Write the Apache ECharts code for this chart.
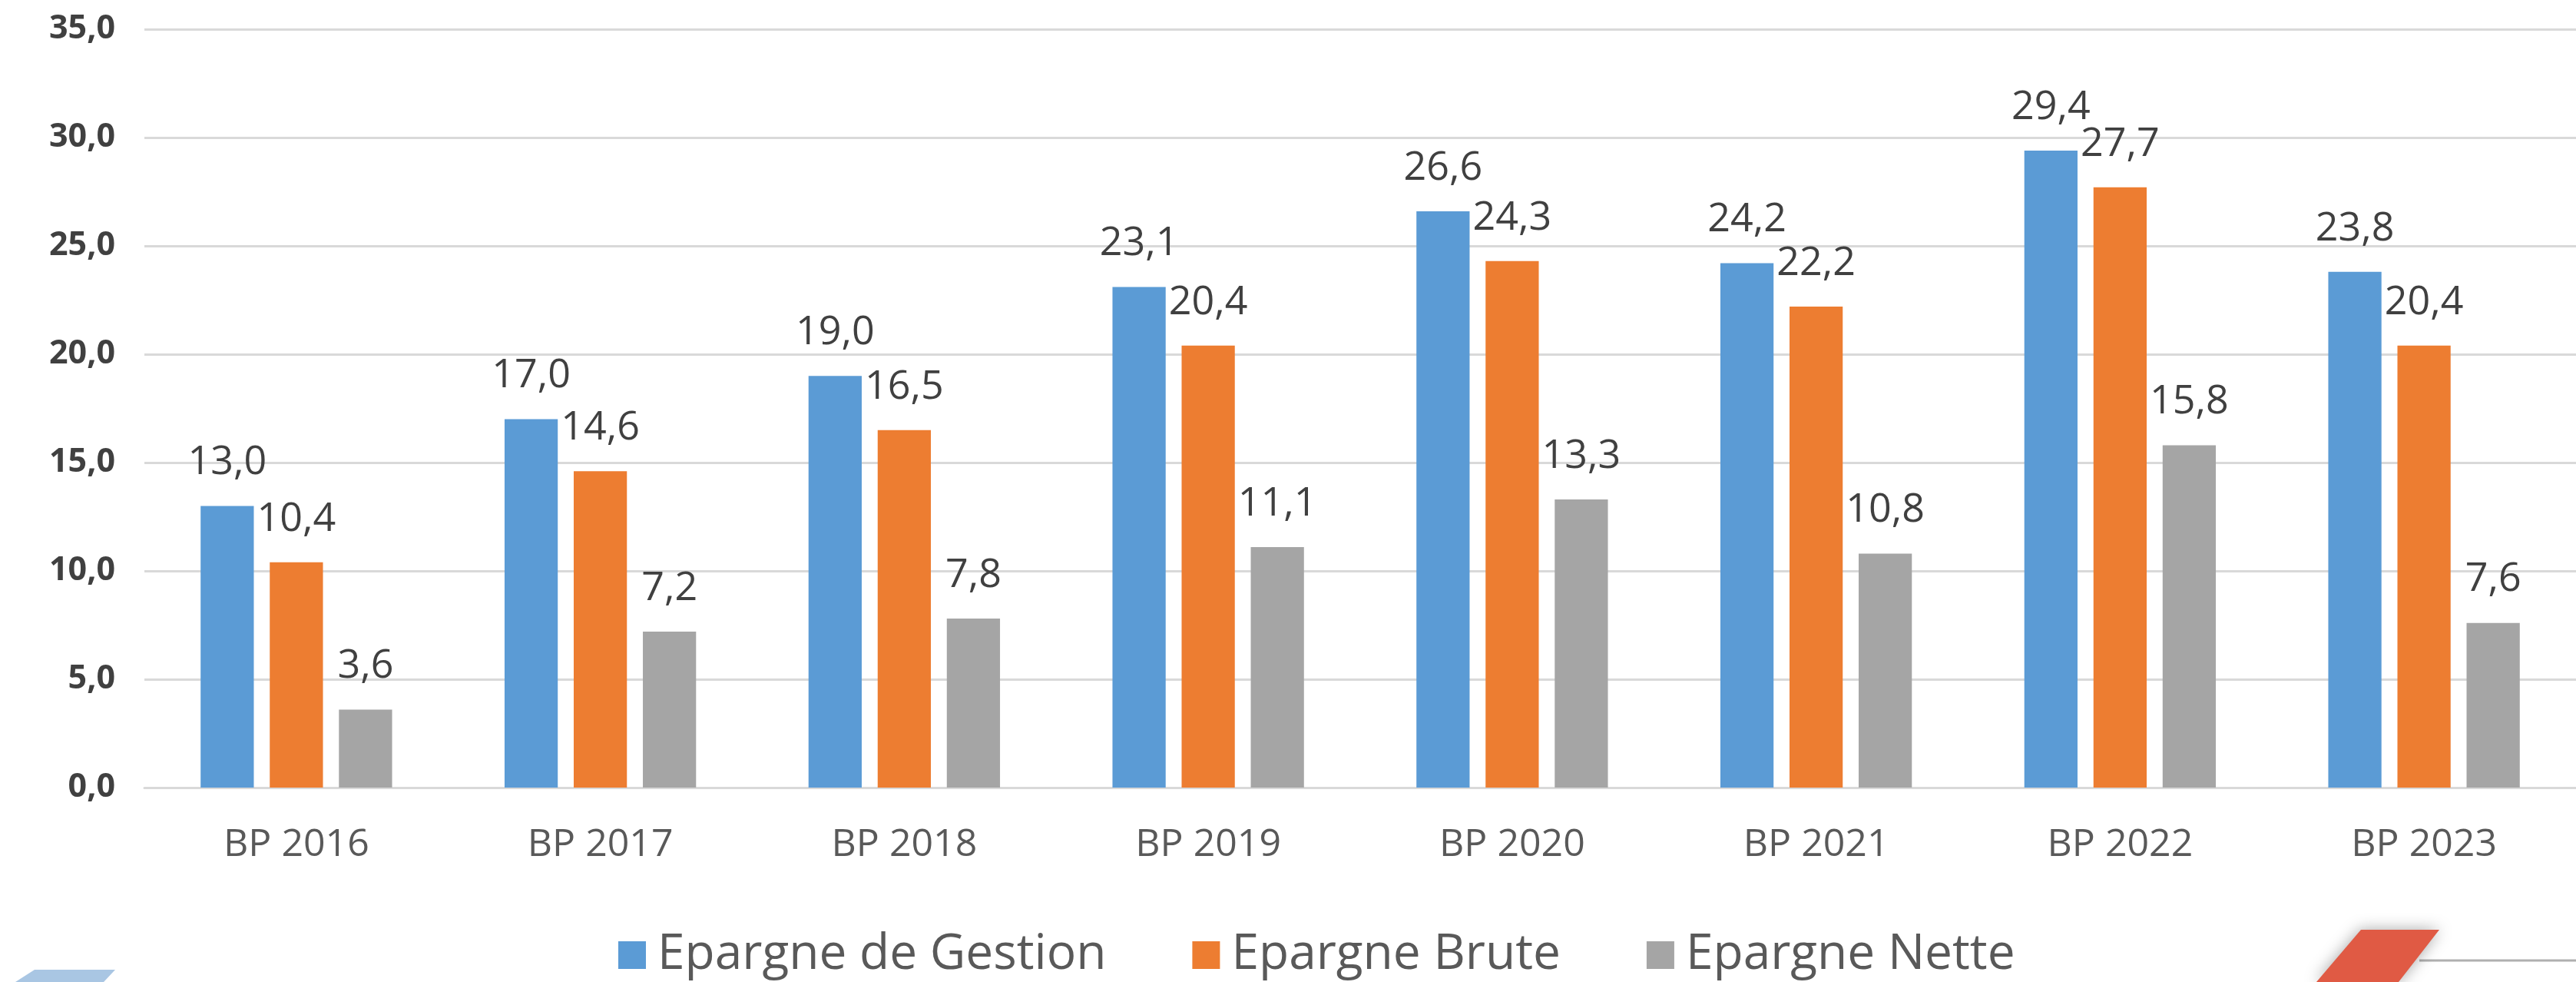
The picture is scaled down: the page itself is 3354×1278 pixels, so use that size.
<!DOCTYPE html>
<html>
<head>
<meta charset="utf-8">
<script src="https://cdn.jsdelivr.net/npm/echarts@6/dist/echarts.min.js"></script>
<style>
html,body{margin:0;padding:0;background:#fff;}
#chart{width:3354px;height:1278px;}
</style>
</head>
<body>
<div id="chart"></div>
<script>
const categories = ['BP 2016','BP 2017','BP 2018','BP 2019','BP 2020','BP 2021','BP 2022','BP 2023'];
const epargneGestion = [13.0, 17.0, 19.0, 23.1, 26.6, 24.2, 29.4, 23.8];
const epargneBrute = [10.4, 14.6, 16.5, 20.4, 24.3, 22.2, 27.7, 20.4];
const epargneNette = [3.6, 7.2, 7.8, 11.1, 13.3, 10.8, 15.8, 7.6];
const seriesNames = ['Epargne de Gestion','Epargne Brute','Epargne Nette'];
const seriesColors = ['#5b9bd5','#ed7d31','#a5a5a5'];
const yMin = 0, yMax = 35, yStep = 5;

const fmt = v => Number(v).toFixed(1).replace('.', ',');
const FONT = '"Open Sans", "Noto Sans", sans-serif';

const chart = echarts.init(document.getElementById('chart'), null, {renderer:'canvas'});
const mk = (name, data, color) => ({
  name, type:'bar', data,
  barGap:'30%', barCategoryGap:'37%',
  itemStyle:{color},
  label:{show:true, position:'top', distance:30, formatter:p=>fmt(p.value),
         color:'#404040', fontSize:52, fontFamily:FONT}
});
chart.setOption({
  animation:false,
  backgroundColor:'#ffffff',
  grid:{left:188, top:38, width:3172, height:987, containLabel:false},
  xAxis:{type:'category', data:categories,
    axisLine:{show:true, lineStyle:{color:'#d9d9d9', width:3}},
    axisTick:{show:false},
    axisLabel:{color:'#595959', fontSize:50, fontFamily:FONT, margin:50}},
  yAxis:{type:'value', min:yMin, max:yMax, interval:yStep,
    axisLine:{show:false}, axisTick:{show:false},
    splitLine:{lineStyle:{color:'#d9d9d9', width:3}},
    axisLabel:{formatter:fmt, color:'#404040', fontSize:43, fontWeight:'bold', fontFamily:FONT, margin:38}},
  legend:{left:800, top:1206, itemWidth:36, itemHeight:36, itemGap:112,
    icon:'rect',
    textStyle:{color:'#595959', fontSize:64, fontFamily:FONT, padding:[0,0,0,10]},
    data:seriesNames},
  series:[
    mk(seriesNames[0], epargneGestion, seriesColors[0]),
    mk(seriesNames[1], epargneBrute, seriesColors[1]),
    mk(seriesNames[2], epargneNette, seriesColors[2])
  ],
  graphic:[
    {type:'polygon', shape:{points:[[45,1262],[150,1262],[135,1278],[20,1278]]}, style:{fill:'#a9c6e3'}, z:10},
    {type:'line', shape:{x1:3150,y1:1250,x2:3354,y2:1250}, style:{stroke:'#b0b0b0', lineWidth:3}, z:9},
    {type:'polygon', shape:{points:[[3074,1210],[3176,1210],[3123,1278],[3016,1278]]},
      style:{fill:'#e05a44', shadowBlur:20, shadowColor:'rgba(0,0,0,0.35)'}, z:10}
  ]
});
</script>
</body>
</html>
